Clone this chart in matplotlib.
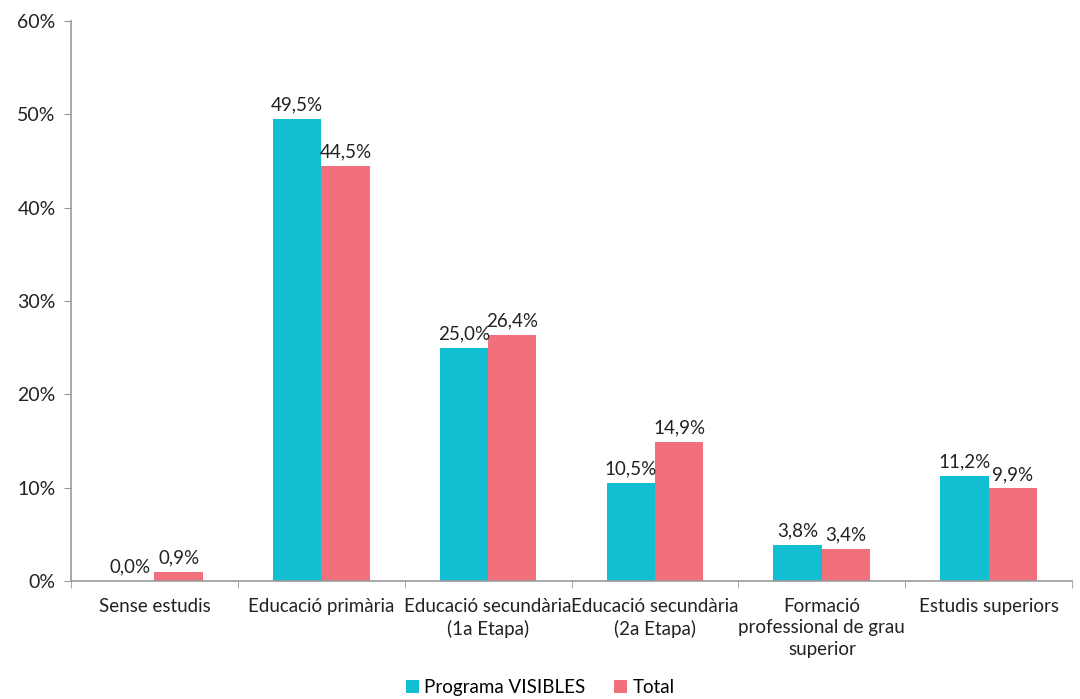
import matplotlib.pyplot as plt
import numpy as np

plt.rcParams['font.family'] = ['Lato', 'DejaVu Sans']

categories = ['Sense estudis', 'Educació primària', 'Educació secundària\n(1a Etapa)',
              'Educació secundària\n(2a Etapa)', 'Formació\nprofessional de grau\nsuperior',
              'Estudis superiors']
visibles = [0.0, 49.5, 25.0, 10.5, 3.8, 11.2]
total = [0.9, 44.5, 26.4, 14.9, 3.4, 9.9]
yticks = [0, 10, 20, 30, 40, 50, 60]

c_vis = '#12BED2'
c_tot = '#F2707C'

fig = plt.figure(figsize=(10.8, 6.99), dpi=100)
ax = fig.add_axes([0.0657, 0.169, 0.927, 0.801])

x = np.arange(len(categories))
w = 0.29
b1 = ax.bar(x - w / 2, visibles, w, color=c_vis, label='Programa VISIBLES')
b2 = ax.bar(x + w / 2, total, w, color=c_tot, label='Total')

for bars in (b1, b2):
    for b in bars:
        h = b.get_height()
        ax.text(b.get_x() + b.get_width() / 2, h + 0.6, f'{h:.1f}%'.replace('.', ','),
                ha='center', va='bottom', fontsize=13.5, color='#222222')

ax.set_xlim(-0.5, len(categories) - 0.5)
ax.set_ylim(0, 60)
ax.set_yticks(yticks)
ax.set_yticklabels([f'{v}%' for v in yticks], fontsize=14, color='#222222')
ax.set_xticks(x)
ax.set_xticklabels(categories, fontsize=13.5, color='#222222', linespacing=1.35)
ax.tick_params(axis='x', length=0, pad=12)
ax.set_xticks(np.arange(-0.5, len(categories)), minor=True)
ax.tick_params(axis='x', which='minor', length=5, color='#999999')
ax.tick_params(axis='y', length=5, color='#999999', pad=6)

for s in ('top', 'right'):
    ax.spines[s].set_visible(False)
for s in ('left', 'bottom'):
    ax.spines[s].set_color('#999999')
    ax.spines[s].set_linewidth(1.2)

fig.legend(loc='lower center', bbox_to_anchor=(0.5, -0.02), ncol=2, frameon=False,
           fontsize=13.5, handlelength=0.7, handleheight=0.7, handletextpad=0.3,
           columnspacing=1.5)

fig.savefig('out.png', dpi=100)
